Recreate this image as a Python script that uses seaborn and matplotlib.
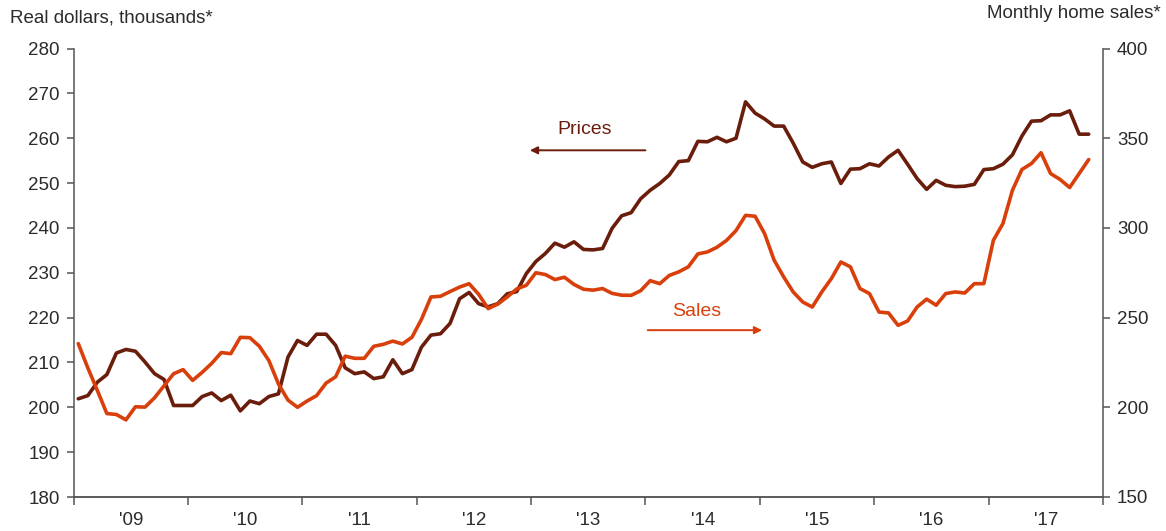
import numpy as np
import pandas as pd
import seaborn as sns
import matplotlib.pyplot as plt

# monthly, Jan 2009 - Nov 2017
prices = [201.9, 202.6, 205.6, 207.3, 212.1, 212.9, 212.5, 210.1, 207.5, 206.2,
          200.4, 200.4, 200.4, 202.4, 203.2, 201.5, 202.7, 199.2, 201.4, 200.8,
          202.4, 203.0, 211.2, 214.9, 213.8, 216.3, 216.3, 213.8, 208.8, 207.5,
          207.9, 206.4, 206.8, 210.6, 207.5, 208.4, 213.4, 216.1, 216.4, 218.7,
          224.2, 225.6, 223.1, 222.4, 223.1, 225.3, 225.8, 229.8, 232.5, 234.3,
          236.6, 235.7, 236.9, 235.2, 235.1, 235.4, 239.9, 242.7, 243.4, 246.5,
          248.4, 249.9, 251.8, 254.8, 255.0, 259.3, 259.2, 260.2, 259.2, 260.0,
          268.1, 265.6, 264.3, 262.7, 262.7, 258.9, 254.7, 253.5, 254.3, 254.7,
          249.9, 253.1, 253.2, 254.3, 253.8, 255.8, 257.3, 254.2, 251.0, 248.6,
          250.6, 249.5, 249.2, 249.3, 249.7, 253.0, 253.2, 254.2, 256.3, 260.5,
          263.8, 263.9, 265.2, 265.2, 266.1, 260.9, 260.9]

sales = [235.5, 222.0, 209.4, 196.5, 196.0, 193.0, 200.3, 200.1, 205.3, 212.0,
         218.7, 221.0, 215.0, 219.5, 224.5, 230.5, 229.9, 239.0, 238.8, 234.0,
         226.0, 213.0, 204.0, 200.0, 203.5, 206.5, 213.5, 217.0, 228.5, 227.3,
         227.3, 234.0, 235.1, 236.9, 235.3, 239.0, 249.0, 261.5, 261.9, 264.5,
         267.0, 268.9, 263.0, 255.0, 257.5, 261.5, 266.0, 268.0, 275.0, 274.0,
         271.2, 272.5, 268.5, 265.8, 265.3, 266.2, 263.5, 262.5, 262.4, 265.0,
         270.6, 268.9, 273.5, 275.5, 278.3, 285.5, 286.6, 289.2, 293.0, 298.5,
         307.0, 306.5, 296.8, 282.0, 272.7, 264.3, 258.7, 255.9, 264.3, 271.7,
         281.0, 278.3, 266.2, 263.4, 253.1, 252.6, 245.7, 248.1, 255.9, 260.3,
         256.9, 263.4, 264.3, 263.7, 268.9, 268.9, 293.1, 302.4, 321.0, 332.6,
         335.9, 341.9, 330.3, 327.0, 322.5, 330.3, 338.1]

years = list(range(2009, 2018))
year_labels = ["'09", "'10", "'11", "'12", "'13", "'14", "'15", "'16", "'17"]

df = pd.DataFrame({"t": 2009 + (np.arange(len(prices)) + 0.5) / 12,
                   "prices": prices, "sales": sales})

price_col = "#6b1d0c"
sales_col = "#d93f0b"
text_col = "#2b2b2b"
spine_col = "#555555"
fs = 13.5

sns.set_style("white")
plt.rcParams["font.family"] = ["Liberation Sans", "DejaVu Sans"]
plt.rcParams["font.size"] = fs

fig = plt.figure(figsize=(11.66, 5.31), dpi=100)
ax = fig.add_axes([73.5 / 1166, 1 - 497 / 531, (1103 - 73.5) / 1166, (497 - 48.5) / 531])
ax2 = ax.twinx()

sns.lineplot(data=df, x="t", y="prices", ax=ax, color=price_col, lw=2.6)
sns.lineplot(data=df, x="t", y="sales", ax=ax2, color=sales_col, lw=2.6)

ax.set_xlim(2009, 2018)
ax.set_ylim(180, 280)
ax2.set_ylim(150, 400)
ax.set_yticks(range(180, 281, 10))
ax2.set_yticks(range(150, 401, 50))

ax.set_xticks(range(2009, 2019))
ax.set_xticklabels([])
ax.set_xticks([y + 0.5 for y in years], minor=True)
ax.set_xticklabels(year_labels, minor=True)

for a in (ax, ax2):
    a.set_xlabel("")
    a.set_ylabel("")
    a.spines["top"].set_visible(False)
    for s in ("left", "right", "bottom"):
        a.spines[s].set_color(spine_col)
        a.spines[s].set_linewidth(1.1)
    a.tick_params(axis="both", which="major", length=5, width=1.1, color=spine_col,
                  labelcolor=text_col, labelsize=fs, pad=5)
ax.spines["right"].set_visible(False)
ax2.spines["left"].set_visible(False)
ax.tick_params(axis="y", left=True, direction="out")
ax2.tick_params(axis="y", right=True, direction="out")
ax.tick_params(axis="x", which="major", bottom=True, direction="out", length=6)
ax.tick_params(axis="x", which="minor", bottom=True, length=0, pad=11,
               labelsize=fs, labelcolor=text_col)

# annotation arrows
ax.annotate("", xy=(2012.99, 257.3), xytext=(2014.0, 257.3),
            arrowprops=dict(arrowstyle="-|>", color=price_col, lw=1.4,
                            mutation_scale=11, shrinkA=0, shrinkB=0))
ax.text(2013.47, 262.0, "Prices", color=price_col, fontsize=14,
        ha="center", va="center")
ax.annotate("", xy=(2015.02, 217.2), xytext=(2014.02, 217.2),
            arrowprops=dict(arrowstyle="-|>", color=sales_col, lw=1.4,
                            mutation_scale=11, shrinkA=0, shrinkB=0))
ax.text(2014.45, 221.4, "Sales", color=sales_col, fontsize=14,
        ha="center", va="center")

fig.text(10 / 1166, 1 - 18 / 531, "Real dollars, thousands*", color=text_col,
         fontsize=fs, ha="left", va="center")
fig.text(1161 / 1166, 1 - 14 / 531, "Monthly home sales*", color=text_col,
         fontsize=fs, ha="right", va="center")

fig.savefig("out.png", dpi=100)
